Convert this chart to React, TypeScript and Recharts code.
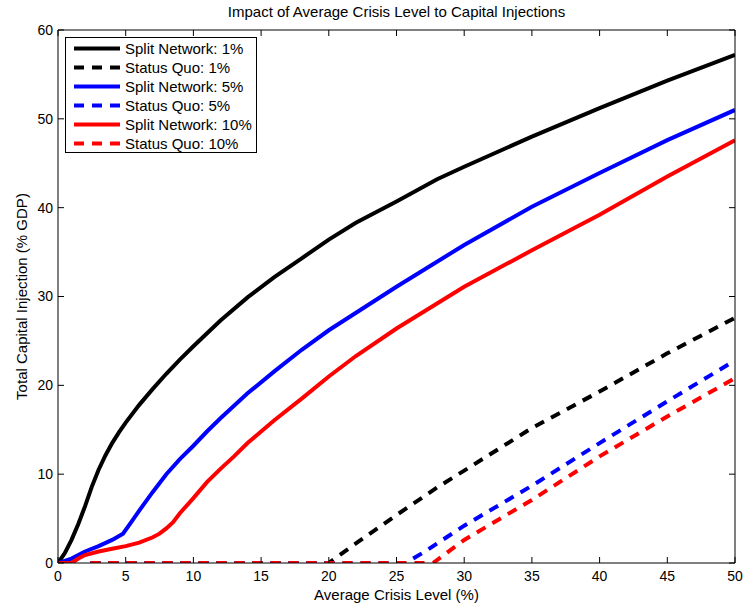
import React from 'react';
import { LineChart, Line, XAxis, YAxis, Legend } from 'recharts';

const FONT = '"Liberation Sans", Arial, Helvetica, sans-serif';

const chartTitle = 'Impact of Average Crisis Level to Capital Injections';
const xAxisLabel = 'Average Crisis Level (%)';
const yAxisLabel = 'Total Capital Injection (% GDP)';

const xTicks = [0, 5, 10, 15, 20, 25, 30, 35, 40, 45, 50];
const yTicks = [0, 10, 20, 30, 40, 50, 60];

// Split Network: 1%
const splitNetwork1X = [0, 0.5, 1, 1.5, 2, 2.5, 3, 3.5, 4, 4.5, 5, 6, 7, 8, 9, 10, 12, 14, 16, 18, 20, 22, 25, 28, 30, 35, 40, 45, 50];
const splitNetwork1Y = [0, 1.1, 2.6, 4.4, 6.4, 8.6, 10.5, 12.1, 13.5, 14.7, 15.8, 17.8, 19.6, 21.3, 22.9, 24.4, 27.3, 29.9, 32.2, 34.3, 36.4, 38.3, 40.7, 43.2, 44.6, 48.0, 51.2, 54.3, 57.2];

// Status Quo: 1%
const statusQuo1X = [2.4, 20, 22, 25, 28, 30, 35, 40, 45, 50];
const statusQuo1Y = [0, 0, 2.2, 5.4, 8.5, 10.4, 15.2, 19.3, 23.6, 27.6];

// Split Network: 5%
const splitNetwork5X = [0, 1, 2, 3, 4, 4.8, 5.5, 6, 7, 8, 9, 10, 11, 12, 14, 16, 18, 20, 25, 30, 35, 40, 45, 50];
const splitNetwork5Y = [0, 0.5, 1.3, 1.9, 2.6, 3.3, 4.8, 5.9, 8.0, 10.0, 11.7, 13.2, 14.8, 16.3, 19.1, 21.6, 24.0, 26.2, 31.1, 35.8, 40.1, 43.9, 47.6, 51.0];

// Status Quo: 5%
const statusQuo5X = [2.4, 25.7, 26, 27, 28, 30, 35, 40, 45, 50];
const statusQuo5Y = [0, 0, 0.3, 1.2, 2.2, 4.2, 8.7, 13.5, 18.2, 22.8];

// Split Network: 10%
const splitNetwork10X = [0, 1, 1.5, 2, 3, 4, 5, 6, 7, 7.5, 8, 8.5, 9, 10, 11, 12, 13, 14, 15, 16, 18, 20, 22, 25, 30, 35, 40, 45, 50];
const splitNetwork10Y = [0, 0, 0.5, 0.9, 1.3, 1.6, 1.9, 2.3, 2.9, 3.3, 3.9, 4.6, 5.6, 7.3, 9.1, 10.6, 12.0, 13.5, 14.8, 16.1, 18.5, 21.0, 23.3, 26.4, 31.1, 35.2, 39.2, 43.5, 47.6];

// Status Quo: 10%
const statusQuo10X = [2.4, 27.7, 30, 35, 40, 45, 50];
const statusQuo10Y = [0, 0, 2.6, 7.1, 12.0, 16.5, 20.8];

const toPoints = (xs: number[], ys: number[]) => xs.map((x, i) => ({ x, y: ys[i] }));

const DASH = '10 8';

const series = [
  { name: 'Split Network: 1%', color: '#000000', dashed: false, data: toPoints(splitNetwork1X, splitNetwork1Y) },
  { name: 'Status Quo: 1%', color: '#000000', dashed: true, data: toPoints(statusQuo1X, statusQuo1Y) },
  { name: 'Split Network: 5%', color: '#0000ff', dashed: false, data: toPoints(splitNetwork5X, splitNetwork5Y) },
  { name: 'Status Quo: 5%', color: '#0000ff', dashed: true, data: toPoints(statusQuo5X, statusQuo5Y) },
  { name: 'Split Network: 10%', color: '#ff0000', dashed: false, data: toPoints(splitNetwork10X, splitNetwork10Y) },
  { name: 'Status Quo: 10%', color: '#ff0000', dashed: true, data: toPoints(statusQuo10X, statusQuo10Y) },
];

const tickStyle = { fill: '#000', fontSize: 14, fontFamily: FONT };

const renderLegend = () => (
  <div
    style={{
      position: 'relative',
      width: 192,
      height: 116,
      boxSizing: 'border-box',
      border: '1px solid #000',
      background: '#fff',
      fontFamily: FONT,
      fontSize: 15,
      color: '#000',
    }}
  >
    {series.map((s, i) => (
      <div key={s.name} style={{ position: 'absolute', left: 0, top: 1 + i * 19, height: 19, width: 190 }}>
        <svg width={46} height={19} style={{ position: 'absolute', left: 8, top: 0 }}>
          <line
            x1={0}
            x2={46}
            y1={9.5}
            y2={9.5}
            stroke={s.color}
            strokeWidth={4}
            strokeDasharray={s.dashed ? DASH : undefined}
          />
        </svg>
        <span style={{ position: 'absolute', left: 59, top: 0, lineHeight: '19px', whiteSpace: 'nowrap' }}>{s.name}</span>
      </div>
    ))}
  </div>
);

export default function App() {
  return (
    <div style={{ position: 'absolute', left: 0, top: 0, width: 751, height: 604, background: '#fff' }}>
      <LineChart width={751} height={604} margin={{ top: 10, right: 0, bottom: 0, left: 0 }}>
        <XAxis
          xAxisId="bottom"
          orientation="bottom"
          type="number"
          dataKey="x"
          domain={[0, 50]}
          ticks={xTicks}
          interval={0}
          allowDataOverflow
          height={41}
          stroke="#000"
          tickSize={-6}
          tickMargin={14}
          tick={tickStyle}
          label={{ value: xAxisLabel, position: 'insideBottom', offset: 4, fill: '#000', fontSize: 15, fontFamily: FONT }}
        />
        <XAxis
          xAxisId="top"
          orientation="top"
          type="number"
          dataKey="x"
          domain={[0, 50]}
          ticks={xTicks}
          interval={0}
          allowDataOverflow
          height={20}
          stroke="#000"
          tickSize={-6}
          tickFormatter={() => ''}
          tick={tickStyle}
          label={{ value: chartTitle, position: 'top', offset: -7, fill: '#000', fontSize: 15, fontFamily: FONT }}
        />
        <YAxis
          yAxisId="left"
          orientation="left"
          type="number"
          domain={[0, 60]}
          ticks={yTicks}
          interval={0}
          allowDataOverflow
          width={58}
          stroke="#000"
          tickSize={-6}
          tickMargin={11}
          tick={tickStyle}
          label={{
            value: yAxisLabel,
            angle: -90,
            position: 'insideLeft',
            offset: 22,
            fill: '#000',
            fontSize: 15,
            fontFamily: FONT,
            style: { textAnchor: 'middle' },
          }}
        />
        <YAxis
          yAxisId="right"
          orientation="right"
          type="number"
          domain={[0, 60]}
          ticks={yTicks}
          interval={0}
          allowDataOverflow
          width={16}
          stroke="#000"
          tickSize={-6}
          tickFormatter={() => ''}
          tick={tickStyle}
        />
        <Legend
          layout="vertical"
          align="center"
          verticalAlign="middle"
          content={renderLegend}
          wrapperStyle={{ left: 65, top: 37, width: 192, height: 116 }}
        />
        {series.map((s) => (
          <Line
            key={s.name}
            xAxisId="bottom"
            yAxisId="left"
            name={s.name}
            data={s.data}
            dataKey="y"
            type="linear"
            stroke={s.color}
            strokeWidth={4}
            strokeDasharray={s.dashed ? DASH : undefined}
            dot={false}
            activeDot={false}
            isAnimationActive={false}
            legendType="line"
          />
        ))}
      </LineChart>
    </div>
  );
}
